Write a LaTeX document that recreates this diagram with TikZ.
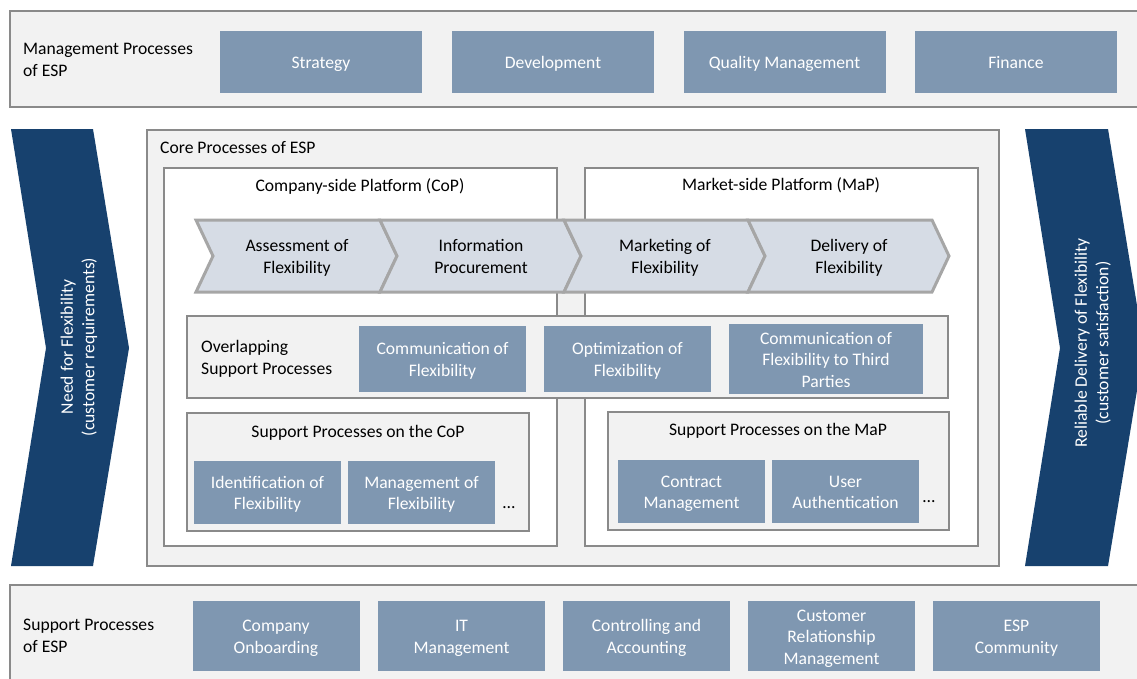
\documentclass[tikz,border=0pt]{standalone}
\usepackage{fontspec}
\setmainfont{Carlito}
\newcommand\tstrut{\rule[-6.45pt]{0pt}{26.2pt}}
\newcommand\mlc[1]{\begin{tabular}{@{}c@{}}\tstrut#1\end{tabular}}
\newcommand\mll[1]{\begin{tabular}{@{}l@{}}\tstrut#1\end{tabular}}
\definecolor{bandbg}{HTML}{F2F2F2}
\definecolor{bordgray}{HTML}{8A8A8A}
\definecolor{boxblue}{HTML}{7F97B1}
\definecolor{navy}{HTML}{17416E}
\definecolor{chevfill}{HTML}{D6DCE5}
\definecolor{chevline}{HTML}{A6A6A6}
\tikzset{
  panel/.style={fill=bandbg, draw=bordgray, line width=1.5pt},
  whitepanel/.style={fill=white, draw=bordgray, line width=1.5pt},
  txt/.style={inner sep=0pt},
  pbox/.style={txt, fill=boxblue, text=white, minimum width=#1},
  pbox/.default=167pt,
  chev/.style={fill=chevfill, draw=chevline, line width=3pt, line join=miter},
  bigchev/.style={fill=navy, draw=none},
  lbl/.style={txt, text=black},
}
\begin{document}
\begin{tikzpicture}[x=1pt, y=-1pt, font=\fontsize{17.6}{21.5}\selectfont]
\useasboundingbox (0,0) rectangle (1137,678);
\fill[white] (0,0) rectangle (1137,678);

% top band
\draw[panel] (10,11) rectangle (1150,107);
\node[lbl, anchor=west] (mlbl) at (23,59) {\mll{Management Processes\\of ESP}};
\node[pbox=202pt, minimum height=62pt] (m1) at (321,61.5) {\mlc{Strategy}};
\node[pbox=202pt, minimum height=62pt] (m2) at (553,61.5) {\mlc{Development}};
\node[pbox=202pt, minimum height=62pt] (m3) at (784.5,61.5) {\mlc{Quality Management}};
\node[pbox=202pt, minimum height=62pt] (m4) at (1016,61.5) {\mlc{Finance}};

% big navy chevrons
\fill[bigchev] (11,129) -- (93,129) -- (129,348) -- (93,566) -- (11,566) -- (46,348) -- cycle;
\node[txt, rotate=90, text=white] (need) at (77,347) {\mlc{Need for Flexibility\\(customer requirements)}};
\fill[bigchev] (1025,129) -- (1108,129) -- (1144,348) -- (1108,566) -- (1025,566) -- (1060,348) -- cycle;
\node[txt, rotate=90, text=white] (rel) at (1091,343) {\mlc{Reliable Delivery of Flexibility\\(customer satisfaction)}};

% core processes
\draw[panel] (147,130) rectangle (999,566);
\node[lbl, anchor=west] (core) at (160,147) {\mll{Core Processes of ESP}};
\draw[whitepanel] (164,168) rectangle (557,546);
\draw[whitepanel] (585,168) rectangle (978,546);
\node[lbl] (cop) at (360,185) {\mlc{Company-side Platform (CoP)}};
\node[lbl] (map) at (781,184) {\mlc{Market-side Platform (MaP)}};

% process chevrons
\foreach \L/\nm/\tx in {196/c1/{Assessment of\\Flexibility}, 380/c2/{Information\\Procurement}, 564/c3/{Marketing of\\Flexibility}, 748/c4/{Delivery of\\Flexibility}}{
  \draw[chev] (\L,220) -- (\L+184,220) -- (\L+201,256) -- (\L+184,292) -- (\L,292) -- (\L+17,256) -- cycle;
  \node[lbl] (\nm) at (\L+101,256) {\mlc{\tx}};
}

% overlapping support processes
\draw[panel] (187,316) rectangle (948,398);
\node[lbl, anchor=west] (olbl) at (201,357) {\mll{Overlapping\\Support Processes}};
\node[pbox=167pt, minimum height=66pt] (o1) at (442.5,359) {\mlc{Communication of\\Flexibility}};
\node[pbox=167pt, minimum height=66pt] (o2) at (627.5,359) {\mlc{Optimization of\\Flexibility}};
\node[pbox=194pt, minimum height=66pt] (o3) at (826,359) {\mlc{Communication of\\Flexibility to Third\\Parties}};

% support on CoP
\draw[panel] (187,413) rectangle (529,531);
\node[lbl] (scop) at (358,431) {\mlc{Support Processes on the CoP}};
\node[pbox=147pt, minimum height=63pt] (sc1) at (267.5,492.5) {\mlc{Identification of\\Flexibility}};
\node[pbox=147pt, minimum height=63pt] (sc2) at (421.5,492.5) {\mlc{Management of\\Flexibility}};
\node[lbl] (sc3) at (509,502) {\mlc{…}};

% support on MaP
\draw[panel] (608,412) rectangle (949,530);
\node[lbl] (smap) at (778,429) {\mlc{Support Processes on the MaP}};
\node[pbox=147pt, minimum height=63pt] (sm1) at (691.5,491.5) {\mlc{Contract\\Management}};
\node[pbox=147pt, minimum height=63pt] (sm2) at (845.5,491.5) {\mlc{User\\Authentication}};
\node[lbl] (sm3) at (929,496) {\mlc{…}};

% bottom band
\draw[panel] (10,585) rectangle (1150,700);
\node[lbl, anchor=west] (slbl) at (23,635) {\mll{Support Processes\\of ESP}};
\node[pbox=167pt, minimum height=70pt] (b1) at (276,636) {\mlc{Company\\Onboarding}};
\node[pbox=167pt, minimum height=70pt] (b2) at (461.5,636) {\mlc{IT\\Management}};
\node[pbox=167pt, minimum height=70pt] (b3) at (646.5,636) {\mlc{Controlling and\\Accounting}};
\node[pbox=167pt, minimum height=70pt] (b4) at (831.5,636) {\mlc{Customer\\Relationship\\Management}};
\node[pbox=167pt, minimum height=70pt] (b5) at (1016.5,636) {\mlc{ESP\\Community}};
\end{tikzpicture}
\end{document}
